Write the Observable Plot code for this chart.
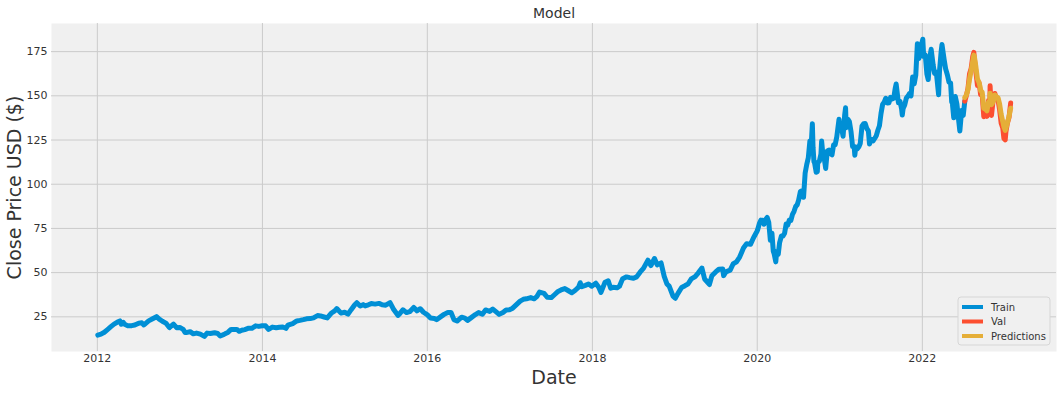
<!DOCTYPE html>
<html>
<head>
<meta charset="utf-8">
<script src="https://cdn.jsdelivr.net/npm/d3@7"></script>
<script src="https://cdn.jsdelivr.net/npm/@observablehq/plot@0.6"></script>
<style>
  html, body { margin: 0; padding: 0; background: #fff; }
  #chart { width: 1061px; height: 393px; }
</style>
</head>
<body>
<div id="chart"></div>
<script>
// ---- Data ----
const trainDates = [
"2012-01-03","2012-01-17","2012-02-01","2012-02-15","2012-03-01","2012-03-15","2012-04-02","2012-04-10","2012-04-16","2012-04-25","2012-05-01","2012-05-15","2012-06-01","2012-06-15","2012-07-02","2012-07-16","2012-07-25","2012-08-01","2012-08-15","2012-09-04","2012-09-19","2012-10-01","2012-10-15","2012-11-01","2012-11-15","2012-12-03","2012-12-17","2012-12-31",
"2013-01-15","2013-01-24","2013-02-01","2013-02-15","2013-03-01","2013-03-15","2013-04-01","2013-04-19","2013-05-01","2013-05-15","2013-06-03","2013-06-17","2013-06-28","2013-07-15","2013-07-24","2013-08-01","2013-08-15","2013-09-03","2013-09-10","2013-09-20","2013-10-01","2013-10-15","2013-11-01","2013-11-15","2013-12-02","2013-12-16","2013-12-31",
"2014-01-15","2014-01-28","2014-02-14","2014-03-03","2014-03-17","2014-04-01","2014-04-15","2014-04-24","2014-05-15","2014-06-02","2014-06-16","2014-07-01","2014-07-15","2014-08-01","2014-08-15","2014-09-02","2014-09-15","2014-10-01","2014-10-15","2014-11-03","2014-11-17","2014-11-26","2014-12-15","2014-12-31",
"2015-01-15","2015-01-28","2015-02-13","2015-02-23","2015-03-10","2015-03-23","2015-04-01","2015-04-15","2015-04-28","2015-05-15","2015-06-01","2015-06-15","2015-07-01","2015-07-20","2015-08-03","2015-08-24","2015-09-01","2015-09-15","2015-10-01","2015-10-15","2015-11-02","2015-11-16","2015-12-01","2015-12-15","2015-12-31",
"2016-01-15","2016-02-01","2016-02-11","2016-03-01","2016-03-15","2016-04-01","2016-04-15","2016-04-28","2016-05-12","2016-06-01","2016-06-15","2016-06-27","2016-07-15","2016-08-01","2016-08-15","2016-09-01","2016-09-15","2016-10-03","2016-10-17","2016-11-01","2016-11-14","2016-12-01","2016-12-15","2016-12-30",
"2017-01-13","2017-02-01","2017-02-15","2017-03-01","2017-03-15","2017-04-03","2017-04-18","2017-05-01","2017-05-12","2017-06-01","2017-06-15","2017-07-03","2017-07-17","2017-08-02","2017-08-15","2017-09-01","2017-09-15","2017-10-02","2017-10-16","2017-11-01","2017-11-08","2017-11-15","2017-12-01","2017-12-15","2017-12-29",
"2018-01-16","2018-01-29","2018-02-08","2018-02-26","2018-03-12","2018-03-23","2018-04-02","2018-04-20","2018-05-01","2018-05-15","2018-06-01","2018-06-15","2018-07-02","2018-07-16","2018-08-01","2018-08-15","2018-09-04","2018-09-17","2018-10-03","2018-10-15","2018-11-01","2018-11-15","2018-11-27","2018-12-07","2018-12-24",
"2019-01-03","2019-01-15","2019-01-31","2019-02-15","2019-03-01","2019-03-15","2019-04-01","2019-04-15","2019-05-01","2019-05-13","2019-06-03","2019-06-14","2019-07-01","2019-07-15","2019-08-01","2019-08-05","2019-08-15","2019-09-03","2019-09-16","2019-10-01","2019-10-15","2019-11-01","2019-11-15","2019-12-02","2019-12-16","2019-12-31",
"2020-01-03","2020-01-10","2020-01-17","2020-01-24","2020-01-31","2020-02-07","2020-02-14","2020-02-21","2020-02-28","2020-03-06","2020-03-12","2020-03-16","2020-03-23","2020-03-27","2020-04-03","2020-04-09","2020-04-17","2020-04-24","2020-05-01","2020-05-08","2020-05-15","2020-05-22","2020-05-29","2020-06-05","2020-06-12","2020-06-19","2020-06-26","2020-07-02","2020-07-10","2020-07-17","2020-07-24","2020-07-31","2020-08-07","2020-08-14","2020-08-21","2020-08-28","2020-09-01","2020-09-04","2020-09-08","2020-09-11","2020-09-18","2020-09-23","2020-09-25","2020-10-02","2020-10-09","2020-10-12","2020-10-16","2020-10-23","2020-10-30","2020-11-06","2020-11-13","2020-11-20","2020-11-27","2020-12-04","2020-12-11","2020-12-18","2020-12-28","2020-12-31",
"2021-01-08","2021-01-15","2021-01-22","2021-01-26","2021-01-29","2021-02-05","2021-02-12","2021-02-19","2021-02-26","2021-03-05","2021-03-08","2021-03-12","2021-03-19","2021-03-26","2021-04-01","2021-04-09","2021-04-16","2021-04-23","2021-04-30","2021-05-07","2021-05-12","2021-05-21","2021-05-28","2021-06-04","2021-06-11","2021-06-18","2021-06-25","2021-07-02","2021-07-09","2021-07-16","2021-07-23","2021-07-30","2021-08-06","2021-08-13","2021-08-20","2021-08-27","2021-09-03","2021-09-07","2021-09-17","2021-09-24","2021-10-01","2021-10-04","2021-10-08","2021-10-15","2021-10-22","2021-10-29","2021-11-05","2021-11-12","2021-11-19","2021-11-26","2021-12-03","2021-12-10","2021-12-17","2021-12-22","2021-12-29",
"2022-01-03","2022-01-07","2022-01-14","2022-01-21","2022-01-27","2022-02-04","2022-02-09","2022-02-18","2022-02-24","2022-03-04","2022-03-14","2022-03-18","2022-03-25","2022-03-29","2022-04-08","2022-04-14","2022-04-22","2022-04-29","2022-05-06","2022-05-11","2022-05-13","2022-05-20","2022-05-27","2022-06-03","2022-06-10","2022-06-16","2022-06-24","2022-07-01","2022-07-08"
];
const trainClose = [
14.69,15.21,16.30,17.80,19.47,20.91,22.20,22.70,20.80,21.80,20.80,19.90,20.00,20.40,21.40,21.60,20.40,21.20,22.70,24.10,25.10,23.70,22.50,21.30,18.90,20.90,18.90,19.00,
17.90,16.10,16.20,16.60,15.40,15.80,15.20,13.95,15.80,15.60,16.00,15.60,14.20,15.10,15.70,16.20,17.90,17.80,17.90,16.80,17.40,17.80,18.60,18.50,19.90,19.60,20.00,
19.90,17.90,19.20,18.80,19.10,19.30,18.50,20.30,21.20,22.70,23.00,23.40,23.90,24.00,24.40,25.70,25.50,24.90,24.40,27.20,28.40,29.70,27.10,27.60,
26.50,28.90,31.70,33.00,31.10,31.90,31.20,31.80,32.50,32.20,32.60,31.80,31.60,33.00,29.60,25.80,26.80,29.00,27.40,27.90,30.30,28.40,29.60,27.60,26.30,
24.30,24.10,23.40,25.10,26.40,27.50,27.50,23.40,22.60,24.80,24.30,23.00,24.70,26.30,27.40,26.50,28.90,28.10,29.40,27.80,26.40,27.50,28.90,29.00,
29.90,32.20,33.90,34.90,35.20,35.90,35.20,36.60,39.00,38.30,36.10,35.90,37.50,39.40,40.20,41.00,39.90,38.60,39.90,41.80,44.30,42.10,42.80,43.60,42.30,
44.00,41.70,38.80,44.60,45.40,41.20,41.70,41.40,42.30,46.60,47.60,47.20,46.80,47.60,50.40,52.40,57.10,54.00,58.00,54.40,55.50,47.90,43.60,42.40,36.70,
35.50,38.30,41.60,42.60,43.70,46.50,47.80,49.90,52.60,46.40,43.30,48.20,50.40,51.90,52.10,48.30,50.40,51.40,54.90,56.10,58.80,63.90,66.40,66.00,69.90,73.40,
74.40,77.60,79.70,79.60,77.40,80.00,81.20,78.30,68.30,72.30,62.10,60.60,56.10,61.90,60.40,67.00,70.70,70.70,72.30,77.50,76.90,79.70,79.50,82.90,84.70,87.40,88.40,91.00,95.90,96.30,92.60,106.30,111.10,114.90,124.40,124.80,134.20,120.90,112.80,112.00,106.80,107.10,112.30,113.00,117.00,124.40,119.00,115.00,108.90,118.70,119.30,117.30,116.60,122.30,122.40,126.70,136.70,132.70,
132.10,127.10,139.10,143.20,132.00,136.80,135.40,129.90,121.30,121.40,116.40,121.00,120.00,121.20,123.00,133.00,134.20,134.30,131.50,130.20,122.80,125.40,124.60,125.90,127.40,130.50,133.10,140.00,145.10,146.40,148.60,145.90,146.10,149.10,148.20,148.60,154.30,156.70,146.10,146.90,142.70,139.10,142.90,144.80,148.70,149.80,151.30,150.00,160.60,156.80,161.80,179.50,171.10,175.60,179.40,
182.00,172.20,173.10,162.40,159.20,172.40,176.30,167.30,162.70,163.20,150.60,164.00,174.70,179.00,170.10,165.30,161.80,157.70,157.30,146.50,147.10,137.60,149.60,145.40,137.10,130.10,141.70,138.90,147.00
];
const valDates = [
"2022-07-08","2022-07-15","2022-07-22","2022-07-29","2022-08-05","2022-08-12","2022-08-17","2022-08-19","2022-08-26","2022-09-02","2022-09-09","2022-09-13","2022-09-16","2022-09-23","2022-09-30","2022-10-07","2022-10-14","2022-10-21","2022-10-27","2022-10-28","2022-11-03","2022-11-10","2022-11-18","2022-11-25","2022-12-02","2022-12-09","2022-12-16","2022-12-23","2022-12-28","2023-01-03","2023-01-06","2023-01-13","2023-01-20","2023-01-27"
];
const valClose = [
147.0,150.2,154.1,162.5,165.4,172.1,174.6,171.5,163.6,155.8,157.4,153.8,150.7,150.4,138.2,140.1,138.4,147.3,144.8,155.7,138.9,146.9,151.3,148.1,147.8,142.2,134.5,131.9,126.0,125.1,129.6,134.8,137.9,145.9
];
const predClose = [
149.0,150.5,153.5,159.5,164.0,169.5,173.0,172.5,166.5,159.5,157.5,155.5,153.0,152.0,143.0,142.5,141.5,146.5,146.5,151.5,145.0,146.5,150.5,149.5,149.0,145.5,139.5,135.5,132.5,130.5,131.5,135.0,138.5,143.0
];
const yTicks = [25, 50, 75, 100, 125, 150, 175];
const xTickYears = [2012, 2014, 2016, 2018, 2020, 2022];
const legendLabels = ["Train", "Val", "Predictions"];
const colors = ["#008fd5", "#fc4f30", "#e5ae38"];

// ---- Build tables ----
const train = trainDates.map((d, i) => ({date: new Date(d), close: trainClose[i]}));
const val = valDates.map((d, i) => ({date: new Date(d), close: valClose[i]}));
const pred = valDates.map((d, i) => ({date: new Date(d), close: predClose[i]}));
const xTicks = xTickYears.map(y => new Date(Date.UTC(y, 0, 1)));

const textColor = "#333333";
const chart = Plot.plot({
  width: 1061,
  height: 393,
  marginLeft: 51,
  marginRight: 5,
  marginTop: 23,
  marginBottom: 42,
  style: {fontFamily: "DejaVu Sans", background: "#ffffff", color: textColor, overflow: "visible"},
  x: {type: "utc", domain: [new Date("2011-06-12"), new Date("2023-08-18")]},
  y: {domain: [5.4, 190.9]},
  marks: [
    Plot.frame({fill: "#f0f0f0", stroke: null}),
    Plot.gridY(yTicks, {stroke: "#cbcbcb", strokeOpacity: 1, strokeWidth: 1}),
    Plot.gridX(xTicks, {stroke: "#cbcbcb", strokeOpacity: 1, strokeWidth: 1}),
    Plot.axisY(yTicks, {tickSize: 0, tickPadding: 4, fontSize: 11, fill: textColor, label: null}),
    Plot.axisX(xTicks, {tickSize: 0, tickPadding: 3, fontSize: 11, fill: textColor, tickFormat: d3.utcFormat("%Y"), label: null}),
    Plot.lineY(train, {x: "date", y: "close", stroke: colors[0], strokeWidth: 5, strokeLinejoin: "round"}),
    Plot.lineY(val, {x: "date", y: "close", stroke: colors[1], strokeWidth: 5, strokeLinejoin: "round"}),
    Plot.lineY(pred, {x: "date", y: "close", stroke: colors[2], strokeWidth: 5, strokeLinejoin: "round"}),
    Plot.text(["Model"], {frameAnchor: "top", lineAnchor: "middle", dy: -10, fontSize: 14, fill: textColor}),
    Plot.text(["Date"], {frameAnchor: "bottom", lineAnchor: "middle", dy: 26, fontSize: 19, fill: textColor}),
    Plot.text(["Close Price USD ($)"], {frameAnchor: "left", lineAnchor: "middle", textAnchor: "middle", dx: -37, rotate: -90, fontSize: 19, fill: textColor})
  ]
});
document.getElementById("chart").appendChild(chart);

// ---- Legend (lower right, inside axes) ----
const svg = d3.select(chart);
const lg = svg.append("g").attr("transform", "translate(958,297)");
lg.append("rect").attr("width", 92).attr("height", 48).attr("rx", 3)
  .attr("fill", "#f0f0f0").attr("stroke", "#d6d6d6").attr("stroke-width", 1);
legendLabels.forEach((lab, i) => {
  const yy = 10 + i * 14.5;
  lg.append("line").attr("x1", 4).attr("x2", 25).attr("y1", yy).attr("y2", yy)
    .attr("stroke", colors[i]).attr("stroke-width", 4);
  lg.append("text").attr("x", 33).attr("y", yy).attr("dy", "0.35em")
    .attr("text-anchor", "start")
    .attr("font-size", 10).attr("fill", textColor).attr("font-family", "DejaVu Sans").text(lab);
});
</script>
</body>
</html>
